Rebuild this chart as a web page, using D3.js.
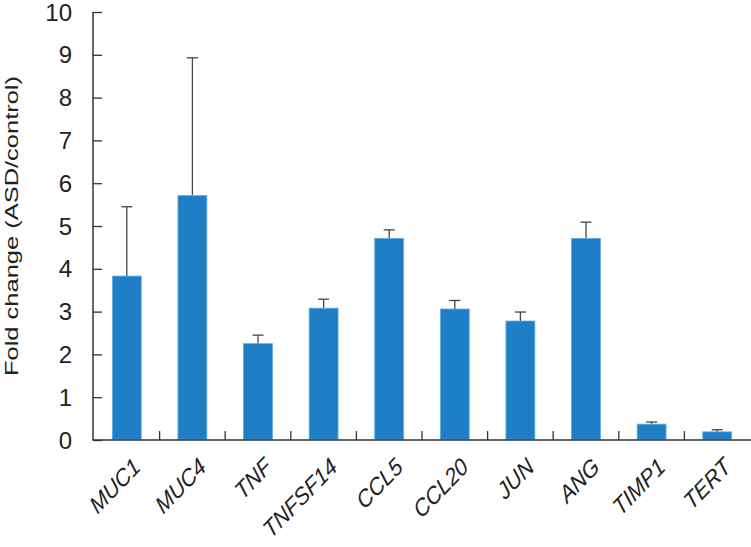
<!DOCTYPE html>
<html>
<head>
<meta charset="utf-8">
<script src="https://cdn.jsdelivr.net/npm/d3@7"></script>
<style>
  body { margin: 0; background: #fff; }
  text { font-family: "Liberation Sans", Arial, Helvetica, sans-serif; fill: #222; }
</style>
</head>
<body>
<div id="chart"></div>
<script>
const SVG_WIDTH = 751;
const SVG_HEIGHT = 547;
const MARGIN = { top: 12, right: 1, bottom: 107, left: 94 };

const genes = ["MUC1", "MUC4", "TNF", "TNFSF14", "CCL5", "CCL20", "JUN", "ANG", "TIMP1", "TERT"];
const foldChange = [3.83, 5.71, 2.25, 3.08, 4.71, 3.06, 2.78, 4.71, 0.37, 0.19];
const errorUp = [1.62, 3.22, 0.2, 0.21, 0.2, 0.2, 0.21, 0.38, 0.05, 0.05];
const yTicks = [0, 1, 2, 3, 4, 5, 6, 7, 8, 9, 10];

const AXIS_COLOR = "#333";
const BAR_COLOR = "#1f7fc6";

const data = genes.map((g, i) => ({ gene: g, value: foldChange[i], err: errorUp[i] }));

const getScales = () => {
    const x = d3.scaleBand()
        .domain(genes)
        .range([MARGIN.left, SVG_WIDTH - MARGIN.right])
        .paddingInner(0)
        .paddingOuter(0);

    const y = d3.scaleLinear()
        .domain([0, 10])
        .range([SVG_HEIGHT - MARGIN.bottom, MARGIN.top]);

    return { x, y };
};

const appendAxes = (svg, scales) => {
    const { x, y } = scales;
    const y0 = y(0);

    // y axis, ticks pointing inward
    const yAxis = svg.append("g")
        .attr("transform", `translate(${MARGIN.left - 1},0)`)
        .call(d3.axisRight(y).tickValues(yTicks).tickSize(9).tickFormat(""));
    yAxis.select(".domain").attr("stroke", AXIS_COLOR).attr("stroke-width", 1.5)
        .attr("d", `M0,${y(10)}V${y0}`);
    yAxis.selectAll(".tick line").attr("stroke", AXIS_COLOR).attr("stroke-width", 1.3);

    svg.append("g").selectAll("text")
        .data(yTicks)
        .join("text")
        .attr("x", 72)
        .attr("y", d => y(d))
        .attr("dy", "0.36em")
        .attr("text-anchor", "end")
        .style("font-size", "24px")
        .text(d => d);

    // x axis line with category separators pointing up
    svg.append("line")
        .attr("x1", MARGIN.left - 1.5).attr("x2", SVG_WIDTH)
        .attr("y1", y0).attr("y2", y0)
        .attr("stroke", AXIS_COLOR).attr("stroke-width", 1.5);

    svg.append("g").selectAll("line")
        .data(genes.slice(1))
        .join("line")
        .attr("x1", d => x(d)).attr("x2", d => x(d))
        .attr("y1", y0).attr("y2", y0 - 9)
        .attr("stroke", AXIS_COLOR).attr("stroke-width", 1.3);

    svg.append("g").selectAll("text")
        .data(genes)
        .join("text")
        .attr("transform", d => `translate(${x(d) + x.bandwidth() / 2 + 15},${y0 + 29}) scale(1,1.15) rotate(-42)`)
        .attr("text-anchor", "end")
        .style("font-size", "21px")
        .style("font-style", "italic")
        .text(d => d);

    svg.append("text")
        .attr("transform", `translate(18,${(75 + 377) / 2}) rotate(-90)`)
        .attr("text-anchor", "middle")
        .attr("textLength", 300)
        .attr("lengthAdjust", "spacingAndGlyphs")
        .style("font-size", "19px")
        .text("Fold change (ASD/control)");
};

const appendData = (svg, scales) => {
    const { x, y } = scales;
    const barW = x.bandwidth() * 0.44;

    svg.append("g").selectAll("line")
        .data(data)
        .join("line")
        .attr("x1", d => x(d.gene) + x.bandwidth() / 2)
        .attr("x2", d => x(d.gene) + x.bandwidth() / 2)
        .attr("y1", d => y(d.value))
        .attr("y2", d => y(d.value + d.err))
        .attr("stroke", "#444").attr("stroke-width", 1.3);

    svg.append("g").selectAll("line")
        .data(data)
        .join("line")
        .attr("x1", d => x(d.gene) + x.bandwidth() / 2 - 5.5)
        .attr("x2", d => x(d.gene) + x.bandwidth() / 2 + 5.5)
        .attr("y1", d => y(d.value + d.err))
        .attr("y2", d => y(d.value + d.err))
        .attr("stroke", "#444").attr("stroke-width", 1.3);

    svg.append("g").selectAll("rect")
        .data(data)
        .join("rect")
        .attr("x", d => x(d.gene) + (x.bandwidth() - barW) / 2)
        .attr("y", d => y(d.value))
        .attr("width", barW)
        .attr("height", d => y(0) - y(d.value) - 0.75)
        .attr("fill", BAR_COLOR)
        .attr("stroke", "#5ea9e2")
        .attr("stroke-width", 0.8);
};

const drawChart = () => {
    const svg = d3.select("#chart").append("svg")
        .attr("width", SVG_WIDTH)
        .attr("height", SVG_HEIGHT);

    const scales = getScales();
    appendData(svg, scales);
    appendAxes(svg, scales);
};

drawChart();
</script>
</body>
</html>
